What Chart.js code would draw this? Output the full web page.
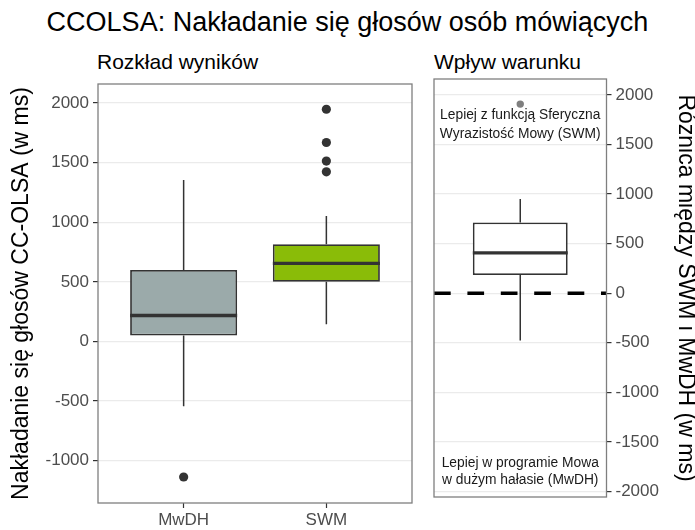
<!DOCTYPE html>
<html lang="pl">
<head>
<meta charset="UTF-8">
<title>CCOLSA: Nakładanie się głosów osób mówiących</title>
<script src="https://cdn.jsdelivr.net/npm/chart.js@4.4.1/dist/chart.umd.min.js"></script>
<style>
    body {
        margin: 0;
        background: #ffffff;
        font-family: "Liberation Sans", Arial, sans-serif;
    }
    #wrap {
        position: relative;
        width: 695px;
        height: 530px;
        overflow: hidden;
    }
    canvas {
        position: absolute;
        top: 0;
    }
    .txt {
        position: absolute;
        white-space: nowrap;
        color: #000;
    }
    #mainTitle {
        left: 0;
        width: 695px;
        top: 9px;
        text-align: center;
        font-size: 27px;
        line-height: 27px;
    }
    .sub {
        top: 51px;
        font-size: 21px;
        line-height: 21px;
    }
</style>
</head>
<body>
<div id="wrap">
    <div id="mainTitle" class="txt">CCOLSA: Nakładanie się głosów osób mówiących</div>
    <div class="txt sub" style="left:97px">Rozkład wyników</div>
    <div class="txt sub" style="left:434px">Wpływ warunku</div>
    <canvas id="leftChart" width="420" height="530" style="left:0"></canvas>
    <canvas id="rightChart" width="275" height="530" style="left:420px"></canvas>
</div>

<script>
// left panel: distribution per condition
const categories = ['MwDH', 'SWM'];
const whiskerLow = [-544, 145];
const quartile1 = [50, 501];
const medians = [218, 655];
const quartile3 = [599, 815];
const whiskerHigh = [1355, 1053];
const outliers = [[-1138], [1423, 1513, 1669, 1948]];
const leftTicks = [-1000, -500, 0, 500, 1000, 1500, 2000];

// right panel: difference SWM - MwDH
const diffWhiskerLow = [-477];
const diffQ1 = [183];
const diffMedian = [407];
const diffQ3 = [713];
const diffWhiskerHigh = [950];
const diffOutliers = [[1907]];
const rightTicks = [-2000, -1500, -1000, -500, 0, 500, 1000, 1500, 2000];
const referenceValue = 0;

const noteTop = ['Lepiej z funkcją Sferyczna', 'Wyrazistość Mowy (SWM)'];
const noteTopY = [1790, 1608];
const noteBottom = ['Lepiej w programie Mowa', 'w dużym hałasie (MwDH)'];
const noteBottomY = [-1719, -1889];

const FONT = '"Liberation Sans", Arial, sans-serif';
const DARK = '#333333';

// draws the grey panel border
const framePlugin = {
    id: 'frame',
    afterDatasetsDraw(chart) {
        const { ctx, chartArea: a } = chart;
        ctx.save();
        ctx.strokeStyle = '#7f7f7f';
        ctx.lineWidth = 1.3;
        ctx.strokeRect(a.left, a.top, a.right - a.left, a.bottom - a.top);
        ctx.restore();
    }
};

// builds box, whisker, median and outlier datasets
function boxDatasets(lo, q1, med, q3, hi, outs, fills, half, barPct, outStyle) {
    const whiskers = [];
    const medLines = [];
    const outPoints = [];
    lo.forEach((v, i) => {
        const x = i + 1;
        whiskers.push({ x, y: lo[i] }, { x, y: q1[i] }, { x, y: null },
                      { x, y: q3[i] }, { x, y: hi[i] }, { x, y: null });
        medLines.push({ x: x - half, y: med[i] }, { x: x + half, y: med[i] }, { x, y: null });
        outs[i].forEach(o => outPoints.push({ x, y: o }));
    });
    return [
        {
            type: 'bar',
            data: lo.map((v, i) => ({ x: i + 1, y: [q1[i], q3[i]] })),
            backgroundColor: fills,
            borderColor: DARK,
            borderWidth: 1.8,
            borderSkipped: false,
            barPercentage: barPct,
            categoryPercentage: 1,
            order: 3
        },
        {
            type: 'line',
            data: whiskers,
            borderColor: DARK,
            borderWidth: 1.5,
            pointRadius: 0,
            spanGaps: false,
            order: 4
        },
        {
            type: 'line',
            data: medLines,
            borderColor: DARK,
            borderWidth: 3.4,
            pointRadius: 0,
            spanGaps: false,
            order: 2
        },
        {
            type: 'line',
            data: outPoints,
            showLine: false,
            pointRadius: outStyle.r,
            pointBackgroundColor: outStyle.color,
            pointBorderWidth: 0,
            order: 1
        }
    ];
}

const tickFont = { family: FONT, size: 17 };
const plainNumber = v => String(v);

new Chart(document.getElementById('leftChart'), {
    type: 'bar',
    data: {
        datasets: boxDatasets(whiskerLow, quartile1, medians, quartile3, whiskerHigh, outliers,
            ['#9baaaa', '#8abc08'], 0.375, 0.75, { r: 4.6, color: DARK })
    },
    options: {
        responsive: false,
        animation: false,
        devicePixelRatio: 1,
        layout: { padding: { top: 84, right: 8, bottom: 0, left: 0 } },
        plugins: { legend: { display: false }, tooltip: { enabled: false } },
        scales: {
            x: {
                type: 'linear',
                min: 0.4,
                max: 2.6,
                offset: false,
                afterBuildTicks: s => { s.ticks = categories.map((c, i) => ({ value: i + 1 })); },
                afterFit: s => { s.height = 27; },
                ticks: {
                    callback: (v, i) => categories[i],
                    font: tickFont,
                    color: '#4d4d4d',
                    padding: 2,
                    maxRotation: 0,
                    autoSkip: false
                },
                grid: { drawOnChartArea: false, offset: false, tickLength: 5, tickColor: DARK, tickWidth: 1.2 },
                border: { display: false }
            },
            y: {
                min: -1356,
                max: 2160,
                afterBuildTicks: s => { s.ticks = leftTicks.map(v => ({ value: v })); },
                afterFit: s => { s.width = 98; },
                ticks: { font: tickFont, color: '#4d4d4d', padding: 4, callback: plainNumber },
                grid: { color: '#ebebeb', lineWidth: 1.2, tickColor: DARK, tickLength: 5, tickWidth: 1.2 },
                border: { display: false },
                title: {
                    display: true,
                    text: 'Nakładanie się głosów CC-OLSA (w ms)',
                    color: '#000',
                    font: { family: FONT, size: 23, lineHeight: 1.2 },
                    padding: { top: 8, bottom: 0 }
                }
            }
        }
    },
    plugins: [framePlugin]
});

// text notes inside the right panel
const notePlugin = {
    id: 'notes',
    afterDatasetsDraw(chart) {
        const { ctx, scales } = chart;
        const x = scales.x.getPixelForValue(1);
        ctx.save();
        ctx.font = '13.8px ' + FONT;
        ctx.fillStyle = '#1a1a1a';
        ctx.textAlign = 'center';
        ctx.textBaseline = 'middle';
        noteTop.forEach((t, i) => ctx.fillText(t, x, scales.y.getPixelForValue(noteTopY[i])));
        noteBottom.forEach((t, i) => ctx.fillText(t, x, scales.y.getPixelForValue(noteBottomY[i])));
        ctx.restore();
    }
};

const rightSets = boxDatasets(diffWhiskerLow, diffQ1, diffMedian, diffQ3, diffWhiskerHigh, diffOutliers,
    ['#ffffff'], 0.33, 0.55, { r: 3.7, color: '#7f7f7f' });
rightSets.push({
    type: 'line',
    data: [{ x: 0.4, y: referenceValue }, { x: 1.6, y: referenceValue }],
    borderColor: '#000',
    borderWidth: 3.5,
    borderDash: [16.7, 16.7],
    pointRadius: 0,
    order: 0
});

new Chart(document.getElementById('rightChart'), {
    type: 'bar',
    data: { datasets: rightSets },
    options: {
        responsive: false,
        animation: false,
        devicePixelRatio: 1,
        layout: { padding: { top: 79, right: 0, bottom: 33, left: 14 } },
        plugins: { legend: { display: false }, tooltip: { enabled: false } },
        scales: {
            x: {
                type: 'linear',
                display: false,
                min: 0.4,
                max: 1.6,
                offset: false,
                afterBuildTicks: s => { s.ticks = [{ value: 1 }]; },
                grid: { offset: false }
            },
            y: {
                position: 'right',
                min: -2055,
                max: 2160,
                afterBuildTicks: s => { s.ticks = rightTicks.map(v => ({ value: v })); },
                afterFit: s => { s.width = 88.5; },
                ticks: { font: tickFont, color: '#4d4d4d', padding: 4, callback: plainNumber },
                grid: { color: '#ebebeb', lineWidth: 1.2, tickColor: DARK, tickLength: 5, tickWidth: 1.2 },
                border: { display: false },
                title: {
                    display: true,
                    text: 'Różnica między SWM i MwDH (w ms)',
                    color: '#000',
                    font: { family: FONT, size: 23, lineHeight: 0.85 },
                    padding: { top: 0, bottom: 0 }
                }
            }
        }
    },
    plugins: [framePlugin, notePlugin]
});
</script>
</body>
</html>
